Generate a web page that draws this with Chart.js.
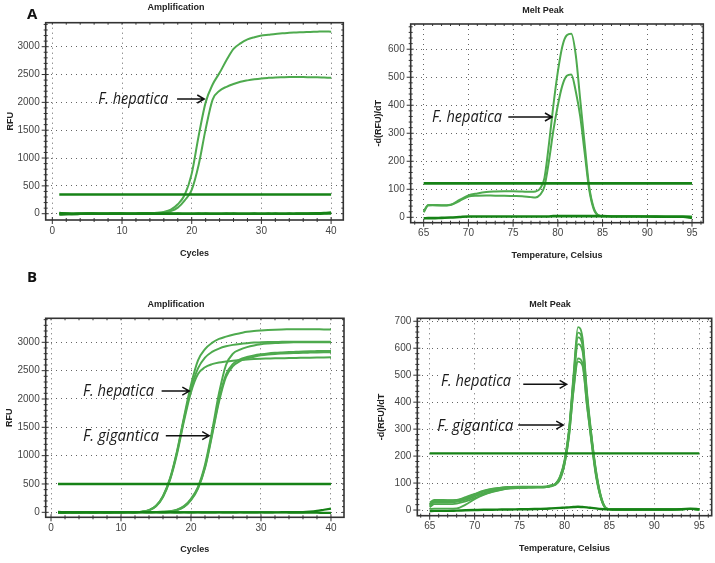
<!DOCTYPE html>
<html>
<head>
<meta charset="utf-8">
<script src="https://cdn.jsdelivr.net/npm/chart.js@4.4.1/dist/chart.umd.min.js"></script>
<style>
  html, body { margin: 0; padding: 0; background: #fff; }
  body { width: 715px; height: 563px; position: relative; overflow: hidden; font-family: "Liberation Sans", Arial, sans-serif; }
  canvas { position: absolute; }
  .titulo { position: absolute; font-weight: bold; font-size: 9px; color: #222; transform: translate(-50%, -50%); white-space: nowrap; }
  .letra { position: absolute; font-weight: bold; font-size: 15px; color: #111; font-family: "Open Sans", "Liberation Sans", sans-serif; }
</style>
</head>
<body>
<canvas id="ampA" width="357" height="268" style="left:0;top:0"></canvas>
<canvas id="meltA" width="355" height="268" style="left:360px;top:0"></canvas>
<canvas id="ampB" width="357" height="283" style="left:0;top:280px"></canvas>
<canvas id="meltB" width="355" height="283" style="left:360px;top:280px"></canvas>

<div class="letra" style="left:27px;top:3px">A</div>
<div class="letra" style="left:27px;top:266px">B</div>
<div class="titulo" style="left:176px;top:7px">Amplification</div>
<div class="titulo" style="left:543px;top:10px">Melt Peak</div>
<div class="titulo" style="left:176px;top:304px">Amplification</div>
<div class="titulo" style="left:550px;top:304px">Melt Peak</div>

<script>
// Eixos
const cycles = [1,2,3,4,5,6,7,8,9,10,11,12,13,14,15,16,17,18,19,20,21,22,23,24,25,26,27,28,29,30,31,32,33,34,35,36,37,38,39,40];
const cycleTicks = [0, 10, 20, 30, 40];
const rfuTicks = [0, 500, 1000, 1500, 2000, 2500, 3000];
const tempTicks = [65, 70, 75, 80, 85, 90, 95];
const meltTicksA = [0, 100, 200, 300, 400, 500, 600];
const meltTicksB = [0, 100, 200, 300, 400, 500, 600, 700];

// A - amplificação
const ampA_hep1 = [4,2,1,2,3,3,4,4,5,5,6,6,8,10,16,32,72,170,340,720,1400,2000,2320,2530,2760,2960,3060,3130,3170,3200,3215,3230,3240,3250,3255,3260,3265,3270,3275,3270];
const ampA_hep2 = [3,2,1,2,2,3,3,4,4,5,5,6,7,9,13,24,48,110,240,430,880,1520,2050,2210,2280,2330,2370,2395,2415,2430,2440,2448,2452,2455,2455,2455,2452,2450,2445,2440];
const ampA_neg1 = [-15,-8,-3,0,2,0,-2,0,2,0,-2,0,2,0,-1,0,1,0,-1,0,1,0,-1,0,1,0,-1,0,1,0,0,1,0,0,1,2,3,6,12,22];
const ampA_neg2 = [10,5,-5,-2,0,1,0,-1,0,1,0,-1,0,1,0,-1,0,1,0,-1,0,1,0,-1,0,1,0,-1,0,0,1,0,0,1,0,0,1,2,3,5];
const thrCycles = [1, 40];
const ampA_thr = [345, 345];

// A - curva de melting
const tempA = [65,65.5,66,67,68,69,70,71,72,73,74,75,76,77,77.5,78,78.5,79,79.5,80,80.5,81,81.5,82,82.5,83,83.5,84,84.5,85,86,88,90,92,94,95];
const meltA_hep1 = [20,44,44,43,45,62,78,85,90,92,93,93,92,91,92,102,140,260,400,520,610,650,655,580,420,260,110,35,8,4,4,4,3,3,3,2];
const meltA_hep2 = [18,42,43,42,44,58,74,77,78,77,77,76,75,72,71,80,110,200,310,400,470,505,510,450,360,230,100,30,7,4,4,4,3,3,3,2];
const meltA_neg = [-4,-3,-3,-2,-1,1,3,3,3,3,3,3,3,3,3,3,3,3,4,4,4,4,4,4,4,4,4,4,4,4,3,3,3,2,2,-2];
const thrTemps = [65, 95];
const meltA_thr = [121, 121];

// B - amplificação
const ampB_hep1 = [2,1,1,1,2,2,2,3,3,4,5,7,12,38,115,290,600,1080,1680,2250,2680,2880,2990,3060,3100,3135,3160,3185,3200,3210,3218,3224,3228,3230,3232,3232,3232,3230,3228,3225];
const ampB_hep2 = [2,1,1,1,2,2,2,3,3,4,5,6,11,36,110,280,585,1060,1650,2180,2540,2730,2830,2890,2930,2955,2972,2985,2995,3000,3004,3006,3008,3010,3010,3010,3010,3010,3010,3008];
const ampB_hep3 = [2,1,1,1,2,2,2,3,3,4,5,6,10,34,105,270,570,1030,1610,2120,2440,2560,2615,2645,2662,2676,2688,2698,2705,2710,2714,2718,2720,2722,2725,2727,2729,2731,2733,2735];
const ampB_gig1 = [1,1,1,1,1,2,2,2,2,3,3,3,4,4,6,9,18,45,110,240,450,840,1430,2100,2600,2800,2870,2915,2945,2965,2978,2988,2994,2998,3000,3002,3002,3002,3002,3000];
const ampB_gig2 = [1,1,1,1,1,2,2,2,2,3,3,3,4,4,5,8,16,40,100,225,430,800,1380,1990,2430,2620,2700,2740,2770,2790,2805,2815,2822,2828,2833,2838,2842,2845,2848,2848];
const ampB_gig3 = [1,1,1,1,1,2,2,2,2,3,3,3,4,4,5,7,15,38,95,215,420,780,1350,1950,2390,2580,2670,2715,2745,2770,2785,2795,2802,2808,2812,2816,2819,2822,2824,2825];
const ampB_neg1 = [-8,-4,-2,0,1,0,-1,0,1,0,-1,0,1,0,-1,0,1,0,-1,0,1,0,0,1,0,0,1,0,0,1,0,1,2,3,4,5,12,25,45,65];
const ampB_neg2 = [6,3,0,-2,-1,0,1,0,-1,0,1,0,-1,0,1,0,-1,0,1,0,-1,0,0,-1,0,0,-1,0,-1,-2,-2,-3,-3,-4,-5,-6,-7,-8,-9,-10];
const ampB_thr = [500, 500];

// B - curva de melting
const tempB = [65,65.5,66,67,68,69,70,71,72,73,74,75,76,77,78,78.5,79,79.5,80,80.5,81,81.5,82,82.5,83,83.5,84,84.5,85,86,88,90,92,94,95];
const meltB_1 = [22,36,36,36,37,45,58,70,78,83,86,87,87,87,88,92,98,125,185,300,500,678,640,440,280,150,60,12,3,2,2,2,2,4,2];
const meltB_2 = [18,33,33,33,34,42,55,68,76,82,85,86,86,86,87,91,97,122,180,295,490,658,625,430,275,145,58,12,3,2,2,2,2,4,2];
const meltB_3 = [28,38,38,37,38,48,60,72,79,83,85,85,85,84,85,90,96,120,178,290,480,640,610,420,270,140,55,11,3,2,2,2,2,4,2];
const meltB_4 = [14,28,28,28,30,38,50,63,72,78,82,84,85,85,86,90,96,118,175,285,470,615,590,410,265,135,52,10,3,2,2,2,2,4,2];
const meltB_5 = [10,22,22,22,24,32,44,58,68,76,80,82,83,84,85,89,95,115,170,275,445,562,545,390,255,130,50,10,3,2,2,2,2,4,2];
const meltB_6 = [4,5,5,5,6,20,40,56,67,75,80,82,83,84,85,88,94,113,168,270,440,550,535,385,250,125,48,9,3,2,2,2,2,4,2];
const meltB_neg = [-4,-3,-3,-3,-2,-1,0,1,1,2,2,3,3,4,5,6,7,8,9,10,11,12,11,10,8,6,4,3,2,2,2,2,2,5,3];
const meltB_thr = [210, 210];

Chart.defaults.font.family = '"Liberation Sans", Arial, sans-serif';

const verdeClaro = 'rgb(78,170,78)';
const verdeEscuro = 'rgb(22,130,22)';

// Moldura com marcas maiores e menores
const molduraPlugin = {
  id: 'moldura',
  afterDatasetsDraw(chart, args, opts) {
    const { ctx, chartArea: a, scales: { x, y } } = chart;
    const seg = (x1, y1, x2, y2) => { ctx.beginPath(); ctx.moveTo(x1, y1); ctx.lineTo(x2, y2); ctx.stroke(); };
    ctx.save();
    ctx.strokeStyle = '#333';
    ctx.lineWidth = 1;
    for (let v = opts.xMin0; v <= x.max; v += opts.xStep) {
      const px = x.getPixelForValue(v);
      const major = opts.xMajor.includes(v);
      seg(px, a.bottom - (major ? 3 : 2), px, a.bottom + (major ? 4 : 2));
      seg(px, a.top, px, a.top + 2);
    }
    for (let v = opts.yMin0; v <= y.max; v += opts.yStep) {
      const py = y.getPixelForValue(v);
      const major = opts.yMajor.includes(v);
      seg(a.left - (major ? 4 : 2), py, a.left + (major ? 3 : 2), py);
      seg(a.right - 2, py, a.right, py);
    }
    ctx.lineWidth = 1.6;
    ctx.strokeRect(a.left, a.top, a.width, a.height);
    ctx.restore();
  }
};

// Textos com setas
const notasPlugin = {
  id: 'notas',
  afterDraw(chart, args, opts) {
    const { ctx, scales: { x, y } } = chart;
    ctx.save();
    for (const n of opts.lista || []) {
      const tx = x.getPixelForValue(n.x);
      const ty = y.getPixelForValue(n.y);
      ctx.font = 'italic 16px "Open Sans", "Noto Sans", sans-serif';
      const w = ctx.measureText(n.texto).width;
      if (n.fundo) {
        ctx.fillStyle = '#fff';
        ctx.fillRect(tx - 2, ty - 10, n.w + 4, 20);
      }
      ctx.save();
      ctx.translate(tx, ty);
      ctx.scale(n.w / w, 1);
      ctx.fillStyle = '#1b1b1b';
      ctx.textBaseline = 'middle';
      ctx.fillText(n.texto, 0, 0);
      ctx.restore();
      const x1 = x.getPixelForValue(n.x1);
      const x2 = x.getPixelForValue(n.x2);
      const ya = y.getPixelForValue(n.ya);
      ctx.strokeStyle = '#111';
      ctx.lineWidth = 1.5;
      ctx.beginPath();
      ctx.moveTo(x1, ya); ctx.lineTo(x2, ya);
      ctx.moveTo(x2 - 7, ya - 4); ctx.lineTo(x2, ya); ctx.lineTo(x2 - 7, ya + 4);
      ctx.stroke();
    }
    ctx.restore();
  }
};

function serie(xs, ys, cor, largura) {
  return {
    data: xs.map((v, i) => ({ x: v, y: ys[i] })),
    borderColor: cor,
    borderWidth: largura,
    pointRadius: 0,
    cubicInterpolationMode: 'monotone',
    fill: false
  };
}

// Função para criar cada painel
function criarPainel(id, cfg) {
  const canvas = document.getElementById(id);
  const c = cfg.caixa;
  return new Chart(canvas, {
    type: 'line',
    data: { datasets: cfg.series },
    options: {
      responsive: false,
      animation: false,
      devicePixelRatio: 1,
      layout: { padding: { left: 0, top: c.top, right: canvas.width - c.right, bottom: 0 } },
      plugins: {
        legend: { display: false },
        tooltip: { enabled: false },
        moldura: cfg.moldura,
        notas: { lista: cfg.notas }
      },
      scales: {
        x: {
          type: 'linear',
          min: cfg.xMin,
          max: cfg.xMax,
          afterBuildTicks: s => { s.ticks = cfg.xTicks.map(v => ({ value: v })); },
          afterFit: s => { s.height = canvas.height - c.bottom; },
          ticks: { autoSkip: false, maxRotation: 0, padding: 5, color: '#444', font: { size: 10 }, callback: v => String(v) },
          grid: { drawTicks: false, color: '#666', lineWidth: 1 },
          border: { display: false, dash: [1, 4] },
          title: { display: true, text: cfg.xTitulo, color: '#222', font: { size: 9, weight: 'bold', lineHeight: 1.2 }, padding: { top: 0, bottom: cfg.xTituloPad } }
        },
        y: {
          type: 'linear',
          min: cfg.yMin,
          max: cfg.yMax,
          afterBuildTicks: s => { s.ticks = cfg.yTicks.map(v => ({ value: v })); },
          afterFit: s => { s.width = c.left; },
          ticks: { autoSkip: false, padding: 6, color: '#444', font: { size: 10 }, callback: v => String(v) },
          grid: { drawTicks: false, color: '#666', lineWidth: 1 },
          border: { display: false, dash: [1, 4] },
          title: { display: true, text: cfg.yTitulo, color: '#222', font: { size: 9, weight: 'bold', lineHeight: 1.2 }, padding: { top: cfg.yTituloPad, bottom: 0 } }
        }
      }
    },
    plugins: [molduraPlugin, notasPlugin]
  });
}

criarPainel('ampA', {
  caixa: { left: 45.7, top: 22.7, right: 343.3, bottom: 220 },
  xMin: -0.95, xMax: 41.75, yMin: -113, yMax: 3431,
  xTicks: cycleTicks, yTicks: rfuTicks,
  xTitulo: 'Cycles', yTitulo: 'RFU', xTituloPad: 9.3, yTituloPad: 5.6,
  moldura: { xMin0: 0, xStep: 2, xMajor: cycleTicks, yMin0: 0, yStep: 100, yMajor: rfuTicks },
  series: [
    serie(thrCycles, ampA_thr, verdeEscuro, 2.6),
    serie(cycles, ampA_neg1, verdeEscuro, 2.6),
    serie(cycles, ampA_neg2, verdeEscuro, 2.6),
    serie(cycles, ampA_hep1, verdeClaro, 2),
    serie(cycles, ampA_hep2, verdeClaro, 2)
  ],
  notas: [{ texto: 'F. hepatica', x: 6.6, y: 2060, w: 70, x1: 17.9, x2: 21.8, ya: 2060 }]
});

criarPainel('meltA', {
  caixa: { left: 50.7, top: 24, right: 343.3, bottom: 222.7 },
  xMin: 63.55, xMax: 96.26, yMin: -19.3, yMax: 690,
  xTicks: tempTicks, yTicks: meltTicksA,
  xTitulo: 'Temperature, Celsius', yTitulo: '-d(RFU)/dT', xTituloPad: 6.6, yTituloPad: 12.9,
  moldura: { xMin0: 64, xStep: 1, xMajor: tempTicks, yMin0: 0, yStep: 20, yMajor: meltTicksA },
  series: [
    serie(thrTemps, meltA_thr, verdeEscuro, 2.6),
    serie(tempA, meltA_neg, verdeEscuro, 2.6),
    serie(tempA, meltA_hep1, verdeClaro, 2),
    serie(tempA, meltA_hep2, verdeClaro, 2)
  ],
  notas: [{ texto: 'F. hepatica', x: 65.94, y: 358, w: 70, x1: 74.46, x2: 79.34, ya: 358 }]
});

criarPainel('ampB', {
  caixa: { left: 45.7, top: 38.3, right: 344, bottom: 237.3 },
  xMin: -0.76, xMax: 41.86, yMin: -88, yMax: 3424,
  xTicks: cycleTicks, yTicks: rfuTicks,
  xTitulo: 'Cycles', yTitulo: 'RFU', xTituloPad: 7.6, yTituloPad: 4.6,
  moldura: { xMin0: 0, xStep: 2, xMajor: cycleTicks, yMin0: 0, yStep: 100, yMajor: rfuTicks },
  series: [
    serie(thrCycles, ampB_thr, verdeEscuro, 2.6),
    serie(cycles, ampB_neg1, verdeEscuro, 2.2),
    serie(cycles, ampB_neg2, verdeEscuro, 2.2),
    serie(cycles, ampB_hep1, verdeClaro, 2),
    serie(cycles, ampB_hep2, verdeClaro, 2),
    serie(cycles, ampB_hep3, verdeClaro, 2),
    serie(cycles, ampB_gig1, verdeClaro, 2),
    serie(cycles, ampB_gig2, verdeClaro, 2),
    serie(cycles, ampB_gig3, verdeClaro, 2)
  ],
  notas: [
    { texto: 'F. hepatica', x: 4.57, y: 2128, w: 71, x1: 15.8, x2: 19.76, ya: 2140 },
    { texto: 'F. gigantica', x: 4.57, y: 1346, w: 76, x1: 16.4, x2: 22.6, ya: 1352 }
  ]
});

criarPainel('meltB', {
  caixa: { left: 57.3, top: 38.3, right: 351.7, bottom: 235.7 },
  xMin: 63.62, xMax: 96.38, yMin: -21, yMax: 711,
  xTicks: tempTicks, yTicks: meltTicksB,
  xTitulo: 'Temperature, Celsius', yTitulo: '-d(RFU)/dT', xTituloPad: 9.3, yTituloPad: 16.3,
  moldura: { xMin0: 64, xStep: 1, xMajor: tempTicks, yMin0: 0, yStep: 20, yMajor: meltTicksB },
  series: [
    serie(thrTemps, meltB_thr, verdeEscuro, 2.4),
    serie(tempB, meltB_neg, verdeEscuro, 2.4),
    serie(tempB, meltB_1, verdeClaro, 1.8),
    serie(tempB, meltB_2, verdeClaro, 1.8),
    serie(tempB, meltB_3, verdeClaro, 1.8),
    serie(tempB, meltB_4, verdeClaro, 1.8),
    serie(tempB, meltB_5, verdeClaro, 1.8),
    serie(tempB, meltB_6, verdeClaro, 1.8)
  ],
  notas: [
    { texto: 'F. hepatica', x: 66.26, y: 476, w: 70, x1: 75.41, x2: 80.24, ya: 466, fundo: true },
    { texto: 'F. gigantica', x: 65.85, y: 309, w: 76, x1: 74.86, x2: 79.86, ya: 315 }
  ]
});
</script>
</body>
</html>
